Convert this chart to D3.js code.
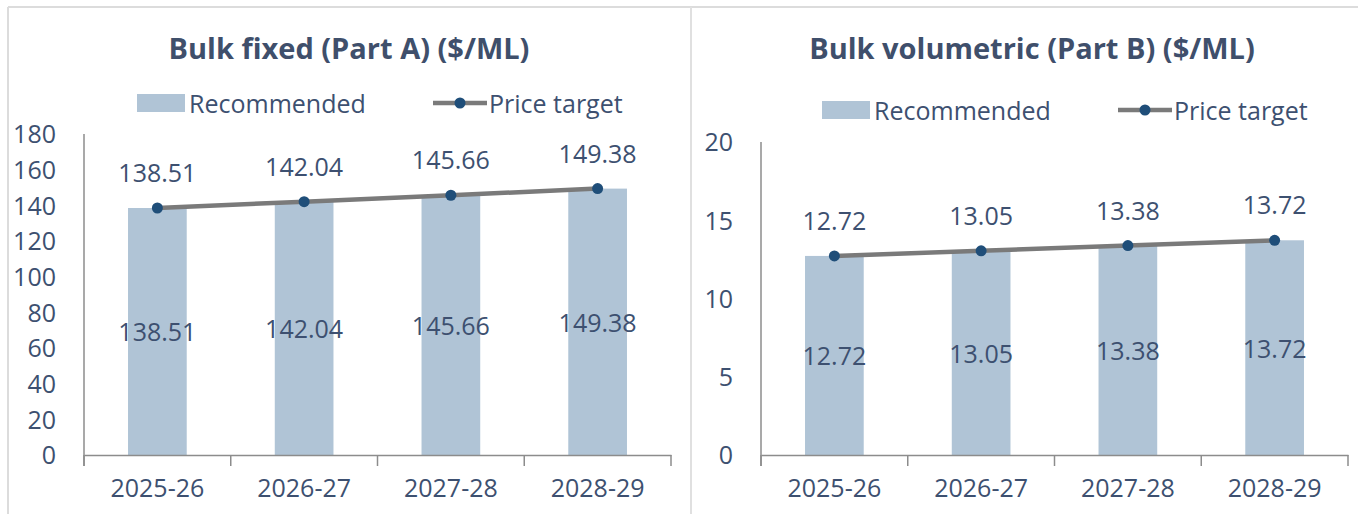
<!DOCTYPE html>
<html><head><meta charset="utf-8">
<script src="https://cdn.jsdelivr.net/npm/d3@7"></script>
<style>
html,body{margin:0;padding:0;background:#fff;}
svg{display:block;}
text{font-family:"Open Sans",sans-serif;}
</style></head>
<body>
<svg id="c" width="1358" height="514"></svg>
<script>
const categories = ["2025-26","2026-27","2027-28","2028-29"];
const partARecommended = [138.51,142.04,145.66,149.38];
const partAPriceTarget = [138.51,142.04,145.66,149.38];
const partATicks = [0,20,40,60,80,100,120,140,160,180];
const partBRecommended = [12.72,13.05,13.38,13.72];
const partBPriceTarget = [12.72,13.05,13.38,13.72];
const partBTicks = [0,5,10,15,20];
const titles = ["Bulk fixed (Part A) ($/ML)","Bulk volumetric (Part B) ($/ML)"];
const legendLabels = ["Recommended","Price target"];

const svg = d3.select("#c");
const TXT = "#3D5070", TTL = "#3F4F6B", BAR = "#B0C4D6", LINE = "#7a7a7a", DOT = "#1F4E79", AX = "#8c8c8c";
const FS = 25;

// panel borders
svg.append("line").attr("x1",8).attr("x2",1358).attr("y1",7).attr("y2",7).attr("stroke","#dcdcdc").attr("stroke-width",2);
svg.append("line").attr("x1",8).attr("x2",8).attr("y1",7).attr("y2",514).attr("stroke","#dcdcdc").attr("stroke-width",2);
svg.append("line").attr("x1",691).attr("x2",691).attr("y1",7).attr("y2",514).attr("stroke","#e0e0e0").attr("stroke-width",2);

function panel(cfg){
  const g = svg.append("g");
  const x = d3.scaleBand().domain(categories).range([cfg.x0, cfg.x1]).paddingInner(0).paddingOuter(0);
  const y = d3.scaleLinear().domain([0, cfg.max]).range([455, cfg.yTop]);
  const bw = x.bandwidth()*0.4;

  g.append("text").attr("x",cfg.cx).attr("y",47).attr("text-anchor","middle").attr("dominant-baseline","central")
    .attr("font-size",29).attr("font-weight",700).attr("fill",TTL).text(cfg.title);

  // legend
  const L = g.append("g");
  L.append("rect").attr("x",cfg.lx).attr("y",cfg.ly-9).attr("width",48).attr("height",18).attr("fill",BAR);
  L.append("text").attr("x",cfg.lx+52).attr("y",cfg.ly).attr("dominant-baseline","central").attr("font-size",FS).attr("fill",TXT).text(legendLabels[0]);
  L.append("line").attr("x1",cfg.lx+296).attr("x2",cfg.lx+350).attr("y1",cfg.ly).attr("y2",cfg.ly).attr("stroke",LINE).attr("stroke-width",4.5);
  L.append("circle").attr("cx",cfg.lx+323).attr("cy",cfg.ly).attr("r",5.5).attr("fill",DOT);
  L.append("text").attr("x",cfg.lx+352).attr("y",cfg.ly).attr("dominant-baseline","central").attr("font-size",FS).attr("fill",TXT).text(legendLabels[1]);

  // y axis
  const ya = g.append("g").attr("transform",`translate(${cfg.x0},0)`)
    .call(d3.axisLeft(y).tickValues(cfg.ticks).tickSize(0).tickPadding(28).tickFormat(d3.format("d")));
  ya.select(".domain").remove();
  ya.selectAll("text").attr("font-size",FS).attr("fill",TXT).attr("font-family","Open Sans").attr("dy","0.35em");
  g.append("line").attr("x1",cfg.x0).attr("x2",cfg.x0).attr("y1",y(cfg.max)).attr("y2",466).attr("stroke",AX).attr("stroke-width",1.5);

  // bars
  g.selectAll("rect.bar").data(cfg.bars).join("rect").attr("class","bar")
    .attr("x",(d,i)=>x(categories[i])+x.bandwidth()/2-bw/2).attr("width",bw)
    .attr("y",d=>y(d)).attr("height",d=>y(0)-y(d)).attr("fill",BAR);

  // x axis
  const xa = g.append("g").attr("transform","translate(0,455)")
    .call(d3.axisBottom(x).tickSize(0).tickPadding(24));
  xa.select(".domain").attr("stroke",AX).attr("stroke-width",1.5);
  xa.selectAll("text").attr("font-size",FS).attr("fill",TXT).attr("font-family","Open Sans");
  const edges = categories.map(c=>x(c)).concat([cfg.x1]);
  g.selectAll("line.xt").data(edges).join("line").attr("class","xt")
    .attr("x1",d=>d).attr("x2",d=>d).attr("y1",455).attr("y2",466).attr("stroke",AX).attr("stroke-width",1.5);

  // bar labels
  g.selectAll("text.bl").data(cfg.bars).join("text").attr("class","bl")
    .attr("x",(d,i)=>x(categories[i])+x.bandwidth()/2).attr("y",d=>(y(d)+y(0))/2)
    .attr("text-anchor","middle").attr("dominant-baseline","central").attr("font-size",FS).attr("fill",TXT)
    .text(d=>d.toFixed(2));

  // line
  const line = d3.line().x((d,i)=>x(categories[i])+x.bandwidth()/2).y(d=>y(d));
  g.append("path").datum(cfg.line).attr("d",line).attr("fill","none").attr("stroke",LINE).attr("stroke-width",4.5);
  g.selectAll("circle.pt").data(cfg.line).join("circle").attr("class","pt")
    .attr("cx",(d,i)=>x(categories[i])+x.bandwidth()/2).attr("cy",d=>y(d)).attr("r",5.5).attr("fill",DOT);
  g.selectAll("text.ll").data(cfg.line).join("text").attr("class","ll")
    .attr("x",(d,i)=>x(categories[i])+x.bandwidth()/2).attr("y",d=>y(d)-36)
    .attr("text-anchor","middle").attr("dominant-baseline","central").attr("font-size",FS).attr("fill",TXT)
    .text(d=>d.toFixed(2));
}

panel({x0:84,x1:671,yTop:134,max:180,ticks:partATicks,bars:partARecommended,line:partAPriceTarget,title:titles[0],cx:349,lx:137,ly:103});
panel({x0:761,x1:1348,yTop:142,max:20,ticks:partBTicks,bars:partBRecommended,line:partBPriceTarget,title:titles[1],cx:1032,lx:822,ly:110});
</script>
</body></html>
